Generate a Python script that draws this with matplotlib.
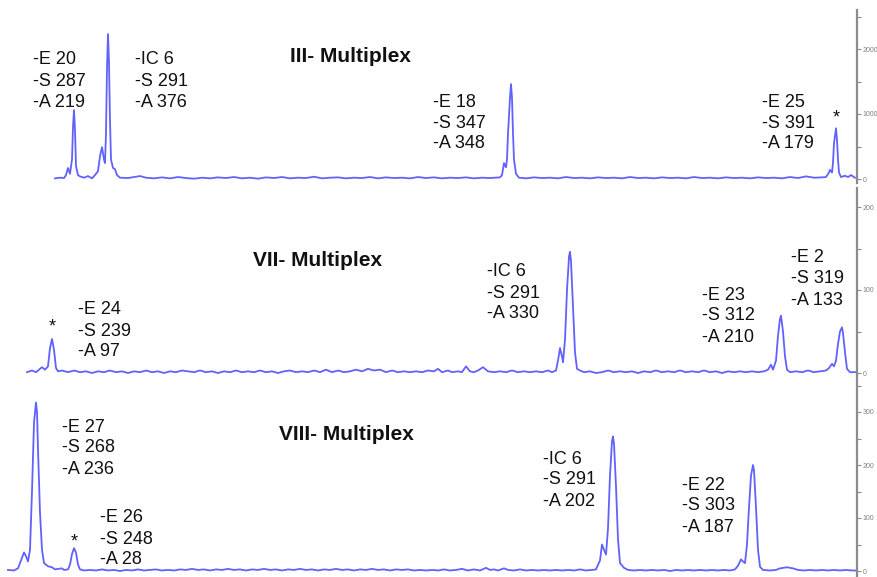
import numpy as np
import matplotlib.pyplot as plt
from matplotlib.ticker import MultipleLocator

# electropherogram traces, (scan, RFU)
trace_iii = np.array([
    (55, 10), (60, 20), (64, 15), (66, 60), (68, 170), (70, 80), (72, 300), (73, 800), (74, 1060),
    (75, 750), (76, 200), (78, 60), (80, 40), (84, 20), (88, 45), (92, 10), (95, 60), (98, 120),
    (100, 350), (102, 490), (104, 300), (105, 245), (106, 700), (107, 1700), (108, 2230), (109, 1800),
    (110, 900), (111, 300), (113, 170), (115, 150), (117, 60), (120, 20),
    (128, 15), (134, 30), (140, 45), (146, 20), (154, 10), (162, 25), (170, 10), (178, 30), (186, 15),
    (194, 5), (202, 20), (210, 10), (218, 25), (226, 15), (234, 30), (242, 10), (250, 20), (258, 5),
    (266, 25), (274, 15), (282, 30), (290, 10), (298, 20), (306, 15), (314, 35), (322, 10), (330, 20),
    (338, 25), (346, 10), (354, 20), (362, 15), (370, 30), (378, 10), (386, 25), (394, 15), (402, 20),
    (410, 10), (418, 30), (426, 15), (434, 25), (442, 10), (450, 20), (458, 15), (466, 25), (474, 10),
    (482, 20), (490, 15), (496, 20),
    (500, 25), (502, 60), (504, 245), (506, 180), (507, 300), (508, 700), (510, 1250), (511, 1460),
    (512, 1250), (513, 700), (514, 300), (516, 80), (519, 20),
    (526, 10), (534, 25), (542, 15), (550, 20), (558, 10), (566, 30), (574, 15), (582, 20), (590, 10),
    (598, 25), (606, 15), (614, 20), (622, 10), (630, 30), (638, 15), (646, 20), (654, 10), (662, 25),
    (670, 15), (678, 20), (686, 10), (694, 30), (702, 15), (710, 20), (718, 10), (726, 25), (734, 15),
    (742, 20), (750, 10), (758, 25), (766, 15), (774, 20), (782, 10), (790, 30), (798, 15), (806, 40),
    (814, 20), (822, 25),
    (826, 30), (829, 100), (830, 140), (832, 100), (833, 250), (834, 550), (836, 780), (837, 600),
    (838, 300), (839, 100), (841, 30), (845, 50), (848, 30), (851, 60), (855, 20)])

trace_vii = np.array([
    (27, 1), (32, 3), (36, 1), (40, 5), (42, 7), (45, 4), (48, 8), (50, 30), (52, 41), (54, 28),
    (56, 6), (58, 2), (62, 3),
    (68, 1), (74, 3), (80, 1), (86, 2), (92, 0), (98, 2), (104, 1), (110, 3), (116, 1), (122, 2),
    (128, 0), (134, 2), (140, 1), (146, 3), (152, 1), (158, 2), (164, 0), (170, 2), (176, 1), (182, 3),
    (188, 2), (194, 1), (200, 3), (206, 1), (212, 2), (218, 0), (224, 2), (230, 1), (236, 3), (242, 1),
    (248, 2), (254, 1), (260, 3), (266, 1), (272, 2), (278, 0), (284, 2), (290, 3), (296, 1), (302, 2),
    (308, 1), (314, 3), (320, 1), (326, 4), (332, 1), (338, 3), (344, 1), (350, 2), (356, 4), (362, 2),
    (368, 5), (374, 3), (380, 4), (386, 1), (392, 3), (398, 1), (404, 2), (410, 1), (416, 2), (422, 1),
    (428, 3), (434, 2), (438, 5), (442, 1), (448, 3), (452, 1), (458, 2), (462, 1), (466, 8), (470, 2),
    (474, 1), (478, 3), (483, 7), (488, 2), (494, 1), (500, 2), (506, 1), (512, 3), (518, 1), (524, 2),
    (530, 1), (536, 2), (542, 1), (548, 3), (552, 1),
    (556, 3), (558, 15), (560, 30), (562, 20), (563, 13), (565, 40), (567, 100), (569, 140), (570, 146),
    (571, 135), (573, 80), (575, 25), (577, 5), (580, 3), (584, 1),
    (590, 2), (596, 0), (602, 1), (608, 3), (614, 1), (620, 2), (626, 1), (632, 2), (638, 0), (644, 2),
    (650, 1), (656, 3), (662, 1), (668, 2), (674, 1), (680, 3), (686, 1), (692, 2), (698, 1), (704, 3),
    (710, 1), (716, 2), (722, 0), (728, 2), (734, 1), (740, 2), (746, 1), (752, 2), (758, 1), (764, 2),
    (768, 4), (771, 10), (773, 4), (776, 15), (778, 45), (780, 65), (781, 69), (783, 50), (785, 20),
    (787, 4), (790, 1),
    (796, 2), (802, 1), (808, 3), (814, 1), (820, 2), (826, 3),
    (829, 6), (832, 11), (834, 8), (836, 15), (838, 35), (840, 50), (842, 55), (843, 48), (845, 25),
    (847, 5), (850, 1), (857, 1)])

trace_viii = np.array([
    (8, 2), (14, 1), (18, 5), (21, 20), (24, 35), (26, 28), (28, 18), (30, 40), (32, 150), (34, 280),
    (36, 318), (37, 300), (38, 230), (40, 110), (42, 40), (44, 15), (48, 9), (52, 7), (55, 3), (58, 4),
    (62, 5), (64, 2), (68, 3), (70, 12), (72, 32), (74, 43), (76, 35), (78, 12), (80, 3), (84, 1),
    (90, 2), (96, 1), (102, 3), (108, 1), (114, 2), (120, 0), (126, 2), (132, 1), (138, 3), (144, 1),
    (150, 2), (156, 3), (162, 1), (168, 2), (174, 1), (180, 3), (186, 2), (192, 4), (198, 2), (204, 3),
    (210, 1), (216, 3), (222, 2), (228, 4), (234, 2), (240, 3), (246, 1), (252, 3), (258, 2), (264, 4),
    (270, 2), (276, 3), (282, 1), (288, 3), (294, 2), (300, 4), (306, 2), (312, 3), (318, 1), (324, 3),
    (330, 2), (336, 4), (342, 2), (348, 3), (354, 1), (360, 3), (366, 2), (372, 4), (378, 2), (384, 3),
    (390, 1), (396, 3), (402, 2), (408, 3), (414, 1), (420, 2), (426, 1), (432, 2), (438, 1), (444, 3),
    (450, 1), (456, 2), (462, 4), (468, 1), (474, 3), (480, 1), (486, 6), (490, 2), (494, 3), (498, 1),
    (504, 5), (508, 2), (514, 1), (520, 3), (526, 1), (532, 2), (538, 1), (544, 2), (550, 1), (556, 2),
    (562, 1), (568, 2), (574, 1), (580, 3), (586, 1), (592, 2),
    (596, 3), (600, 20), (602, 50), (604, 40), (606, 31), (608, 80), (610, 180), (612, 245), (613, 254),
    (614, 240), (616, 160), (618, 60), (620, 15), (624, 6), (628, 2),
    (634, 1), (640, 2), (646, 1), (652, 2), (658, 1), (664, 2), (670, 0), (676, 2), (682, 1), (688, 2),
    (694, 1), (700, 2), (706, 1), (712, 2), (718, 1), (724, 2), (730, 1),
    (735, 3), (738, 10), (741, 22), (743, 18), (745, 15), (747, 50), (749, 120), (751, 180), (753, 200),
    (754, 190), (756, 120), (758, 40), (760, 8), (763, 2), (770, 1), (776, 2), (780, 5), (787, 7),
    (793, 5), (798, 2), (804, 1), (810, 2), (816, 1), (822, 2), (828, 1), (834, 2), (840, 1), (846, 2),
    (852, 1), (857, 1)])

titles = ["III- Multiplex", "VII- Multiplex", "VIII- Multiplex"]
major_steps = [1000, 100, 100]

labels_iii = ["-E 20\n-S 287\n-A 219", "-IC 6\n-S 291\n-A 376",
              "-E 18\n-S 347\n-A 348", "-E 25\n-S 391\n-A 179"]
labels_vii = ["-E 24\n-S 239\n-A 97", "-IC 6\n-S 291\n-A 330",
              "-E 23\n-S 312\n-A 210", "-E 2\n-S 319\n-A 133"]
labels_viii = ["-E 27\n-S 268\n-A 236", "-E 26\n-S 248\n-A 28",
               "-IC 6\n-S 291\n-A 202", "-E 22\n-S 303\n-A 187"]

# layout (figure pixels, origin top-left)
W, H = 877, 577
axes_px = [(10, 183), (188, 379), (381, 576)]      # top, bottom of each panel
zero_px = [179, 373, 571]                          # pixel row of 0 RFU
px_per_unit = [0.065, 0.83, 0.53]
title_px = [(290, 56), (253, 260), (279, 435)]
label_px = [[(33, 60), (135, 60), (433, 102), (762, 102)],
            [(78, 310), (487, 272), (702, 295), (791, 258)],
            [(62, 427), (100, 518), (543, 459), (682, 485)]]
star_px = [(836, 118), (52, 327), (74, 542)]
line_step = 21

blue = '#6161ff'
grey = '#8c8c8c'
font = ['Liberation Sans', 'DejaVu Sans']

fig = plt.figure(figsize=(W / 100, H / 100), dpi=100)
traces = [trace_iii, trace_vii, trace_viii]
all_labels = [labels_iii, labels_vii, labels_viii]

for k in range(3):
    top, bot = axes_px[k]
    ax = fig.add_axes([0, (H - bot) / H, 857 / W, (bot - top) / H])
    ax.set_xlim(0, 857)
    ax.set_ylim(-(bot - zero_px[k]) / px_per_unit[k], (zero_px[k] - top) / px_per_unit[k])
    ax.plot(traces[k][:, 0], traces[k][:, 1], color=blue, lw=1.3, solid_joinstyle='round')
    ax.patch.set_visible(False)
    for s in ['top', 'left', 'bottom']:
        ax.spines[s].set_visible(False)
    ax.spines['right'].set_color(grey)
    ax.spines['right'].set_linewidth(1.6)
    ax.set_xticks([])
    ax.yaxis.tick_right()
    ax.yaxis.set_major_locator(MultipleLocator(major_steps[k]))
    ax.yaxis.set_minor_locator(MultipleLocator(major_steps[k] / 2))
    ax.tick_params(axis='y', which='both', direction='out', length=3, width=0.8,
                   color=grey, labelsize=5, labelcolor='#808080', pad=1)
    for t in ax.get_yticklabels():
        t.set_family(font)

    tx, ty = title_px[k]
    fig.text(tx / W, 1 - ty / H, titles[k], fontsize=15, fontweight='bold',
             family=font, va='center', ha='left', color='#111111')

    for lab, (lx, ly) in zip(all_labels[k], label_px[k]):
        for i, line in enumerate(lab.split('\n')):
            fig.text(lx / W, 1 - (ly + i * line_step) / H, line, fontsize=13,
                     family=font, va='center', ha='left', color='#111111')

    sx, sy = star_px[k]
    fig.text(sx / W, 1 - sy / H, '*', fontsize=13, family=font,
             va='center', ha='center', color='#111111')

fig.savefig('out.png', dpi=100)
